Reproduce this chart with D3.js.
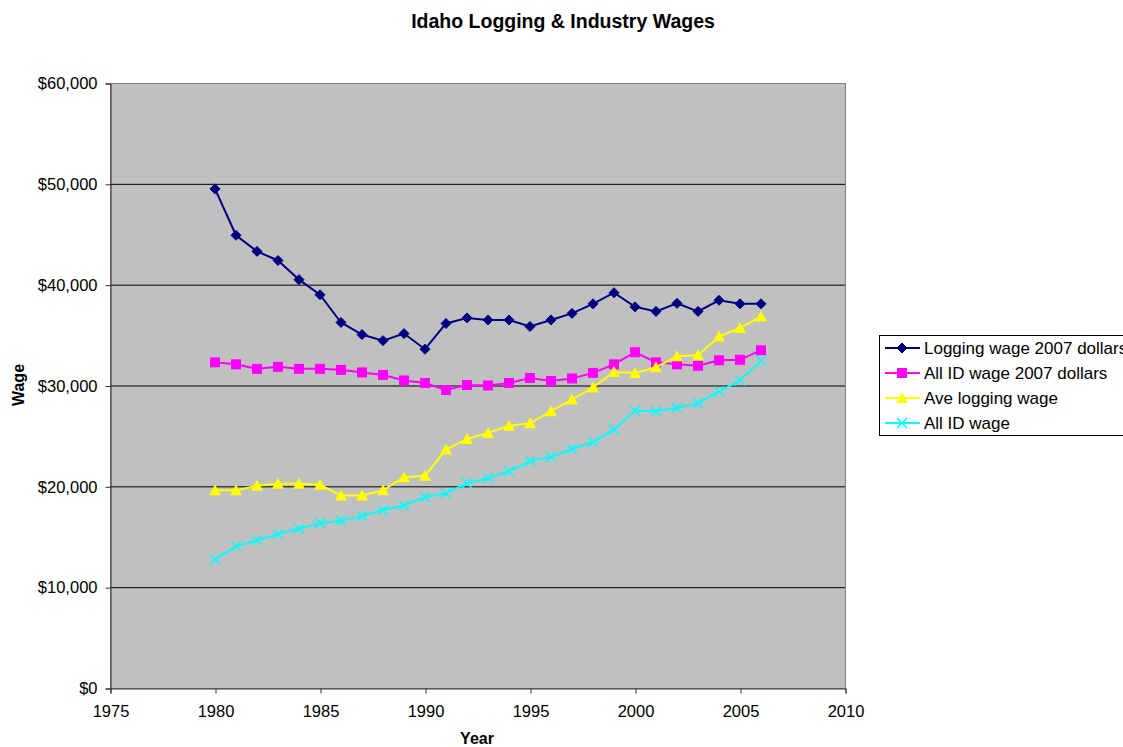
<!DOCTYPE html>
<meta charset="utf-8">
<body style="margin:0; background:#fff;">
<script src="https://d3js.org/d3.v7.min.js"></script>
<svg id="chart" width="1123" height="747"></svg>
<script>
// data
var years = d3.range(1980, 2007);
var loggingReal = [49500, 44900, 43300, 42400, 40500, 39000, 36250, 35050, 34450, 35150, 33600,
                   36150, 36700, 36500, 36500, 35850, 36500, 37150, 38100, 39200, 37800,
                   37350, 38150, 37350, 38450, 38100, 38100];
var allIdReal = [32300, 32100, 31650, 31850, 31650, 31650, 31550, 31300, 31050, 30500, 30250,
                 29550, 30050, 30000, 30250, 30750, 30450, 30700, 31250, 32100, 33300,
                 32300, 32100, 31950, 32500, 32550, 33500];
var loggingWage = [19600, 19600, 20050, 20250, 20250, 20150, 19100, 19100, 19600, 20900, 21050,
                   23650, 24700, 25300, 26000, 26250, 27450, 28600, 29800, 31350, 31250,
                   31800, 32900, 33000, 34850, 35700, 36850];
var allIdWage = [12750, 14050, 14650, 15250, 15800, 16350, 16600, 17050, 17650, 18100, 18950,
                 19300, 20300, 20800, 21500, 22500, 22900, 23700, 24400, 25650, 27500,
                 27450, 27800, 28250, 29400, 30500, 32450];

var seriesNames = ["Logging wage 2007 dollars", "All ID wage 2007 dollars", "Ave logging wage", "All ID wage"];
var seriesColors = ["#000080", "#ff00ff", "#ffff00", "#00ffff"];
var seriesMarkers = ["diamond", "square", "triangle", "x"];
var seriesValues = [loggingReal, allIdReal, loggingWage, allIdWage];

var xTicks = [1975, 1980, 1985, 1990, 1995, 2000, 2005, 2010];
var yTicks = [0, 10000, 20000, 30000, 40000, 50000, 60000];

var svg = d3.select("#chart");
var font = "'Liberation Sans', Arial, sans-serif";

var plotLeft = 110, plotTop = 83, plotRight = 845, plotBottom = 688;

var x = d3.scaleLinear().domain([1975, 2010]).range([plotLeft, plotRight]);
var y = d3.scaleLinear().domain([0, 60000]).range([plotBottom, plotTop]);

// plot background
svg.append("rect")
  .attr("x", plotLeft + 0.5).attr("y", plotTop + 0.5)
  .attr("width", plotRight - plotLeft).attr("height", plotBottom - plotTop)
  .attr("fill", "#c0c0c0")
  .attr("stroke", "#808080").attr("stroke-width", 1);

// gridlines
svg.append("g").selectAll("line")
  .data(yTicks.filter(d => d > 0 && d < 60000))
  .enter().append("line")
  .attr("x1", plotLeft).attr("x2", plotRight)
  .attr("y1", d => y(d) + 0.5).attr("y2", d => y(d) + 0.5)
  .attr("stroke", "#000").attr("stroke-width", 1);

// axes
var yAxis = svg.append("g")
  .attr("transform", "translate(" + (plotLeft + 0.5) + ",0.5)")
  .call(d3.axisLeft(y).tickValues(yTicks).tickSize(5).tickPadding(8)
        .tickFormat(d => "$" + d3.format(",")(d)));
var xAxis = svg.append("g")
  .attr("transform", "translate(0.5," + (plotBottom + 0.5) + ")")
  .call(d3.axisBottom(x).tickValues(xTicks).tickSize(5).tickPadding(12)
        .tickFormat(d3.format("d")));

[yAxis, xAxis].forEach(function(a) {
  a.select(".domain").attr("stroke", "#333");
  a.selectAll(".tick line").attr("stroke", "#333");
  a.selectAll("text").attr("font-family", font).attr("font-size", 16.5).attr("fill", "#000");
});

// markers
function marker(g, type, color) {
  if (type == "diamond") {
    g.append("path").attr("d", "M0,-5L5,0L0,5L-5,0Z").attr("fill", color).attr("stroke", color);
  } else if (type == "square") {
    g.append("rect").attr("x", -5).attr("y", -5).attr("width", 10).attr("height", 10)
      .attr("fill", color);
  } else if (type == "triangle") {
    g.append("path").attr("d", "M0,-6L6,5L-6,5Z").attr("fill", color);
  } else {
    g.append("path").attr("d", "M-5,-5L5,5M-5,5L5,-5").attr("stroke", color)
      .attr("stroke-width", 1.5).attr("fill", "none");
  }
}

var line = d3.line().x(d => x(d[0])).y(d => y(d[1]));

seriesValues.forEach(function(vals, i) {
  var pts = years.map((yr, j) => [yr, vals[j]]);
  svg.append("path")
    .datum(pts)
    .attr("d", line)
    .attr("fill", "none")
    .attr("stroke", seriesColors[i])
    .attr("stroke-width", 2);
  svg.append("g").selectAll("g")
    .data(pts)
    .enter().append("g")
    .attr("transform", d => "translate(" + x(d[0]) + "," + y(d[1]) + ")")
    .each(function() { marker(d3.select(this), seriesMarkers[i], seriesColors[i]); });
});

// title and axis labels
svg.append("text")
  .attr("x", 563).attr("y", 28)
  .attr("text-anchor", "middle")
  .attr("font-family", font).attr("font-size", 19.5).attr("font-weight", "bold")
  .text("Idaho Logging & Industry Wages");

svg.append("text")
  .attr("x", 477).attr("y", 744)
  .attr("text-anchor", "middle")
  .attr("font-family", font).attr("font-size", 16).attr("font-weight", "bold")
  .text("Year");

svg.append("text")
  .attr("transform", "translate(24,385) rotate(-90)")
  .attr("text-anchor", "middle")
  .attr("font-family", font).attr("font-size", 16).attr("font-weight", "bold")
  .text("Wage");

// legend
var legend = svg.append("g");
legend.append("rect")
  .attr("x", 879.5).attr("y", 335.5)
  .attr("width", 260).attr("height", 100)
  .attr("fill", "#fff").attr("stroke", "#000");

var legendRows = [348, 373, 398, 423];
seriesNames.forEach(function(name, i) {
  var g = legend.append("g").attr("transform", "translate(0," + legendRows[i] + ")");
  g.append("line").attr("x1", 885).attr("x2", 920).attr("y1", 0).attr("y2", 0)
    .attr("stroke", seriesColors[i]).attr("stroke-width", 2);
  var m = g.append("g").attr("transform", "translate(902,0)");
  marker(m, seriesMarkers[i], seriesColors[i]);
  g.append("text")
    .attr("x", 924).attr("y", 6)
    .attr("font-family", font).attr("font-size", 17)
    .text(name);
});
</script>
</body>
